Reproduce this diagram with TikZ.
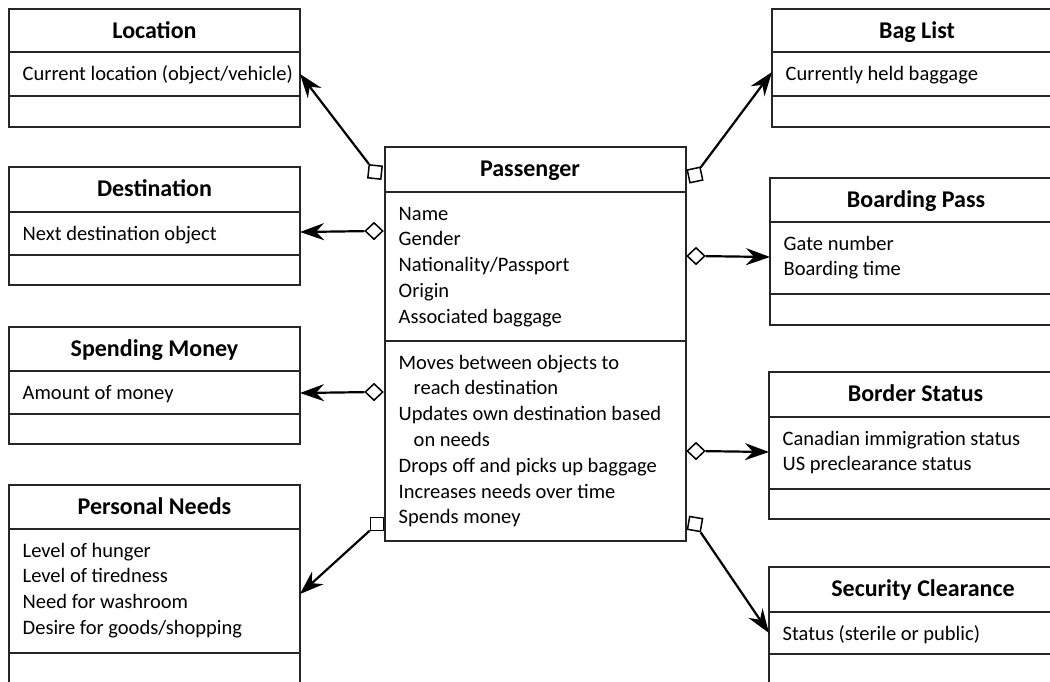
\documentclass[tikz,border=0pt]{standalone}
\usepackage{fontspec}
\setmainfont{Carlito}
\usetikzlibrary{arrows.meta,shapes.geometric}

\definecolor{boxline}{HTML}{262626}
\newcommand{\bodyfont}{\fontsize{20.5}{25.8}\selectfont}
\newcommand{\titlefont}{\fontsize{24}{28}\selectfont\bfseries}
\newcommand{\lines}[1]{\parbox[t]{330pt}{\raggedright #1}}
\newcommand{\contd}{\hspace*{15pt}}

% class box: name, left, top, right, bottom, first divider, second divider, title, attributes
\newcommand{\classbox}[9]{%
  \node[box, minimum width={(#4-#2)*1pt}, minimum height={(#5-#3)*1pt}] (#1) at (#2,#3) {};
  \draw[divider] (#2,#6) -- (#4,#6);
  \draw[divider] (#2,#7) -- (#4,#7);
  \node[title] (#1-title) at ({(#2+#4)/2},#3+29) {#8};
  \node[body] (#1-attr) at (#2+13.5,#6+28) {\lines{#9}};
}

\begin{document}
\begin{tikzpicture}[x=1pt,y=-1pt,
  box/.style={draw=boxline, line width=1.5pt, inner sep=0, outer sep=0, anchor=north west},
  divider/.style={draw=boxline, line width=2pt},
  title/.style={font=\titlefont, anchor=base, inner sep=0},
  body/.style={font=\bodyfont, anchor=base west, inner sep=0},
  link/.style={line width=2.2pt, -{Stealth[length=24pt,width=17pt,inset=8pt]}},
  agg/.style={draw, diamond, line width=1.5pt, minimum width=18pt, minimum height=17pt, inner sep=0, fill=white},
  comp/.style={draw, rectangle, line width=1.5pt, minimum size=13pt, inner sep=0, fill=white},
]
\clip (0,0) rectangle (1050,681);

% left column
\classbox{loc}{9}{9}{300}{127}{52}{96}{Location}{Current location (object/vehicle)}
\classbox{dest}{9}{167}{300}{285}{212}{255}{Destination}{Next destination object}
\classbox{money}{9}{327}{300}{444}{371}{414}{Spending Money}{Amount of money}
\classbox{needs}{9}{485}{300}{700}{529}{653}{Personal Needs}{Level of hunger\\Level of tiredness\\Need for washroom\\Desire for goods/shopping}

% central class
\node[box, minimum width=301pt, minimum height=394pt] (pass) at (385,147) {};
\draw[divider] (385,192) -- (686,192);
\draw[divider] (385,341) -- (686,341);
\node[title] (pass-title) at (530,176) {Passenger};
\node[body] (pass-attr) at (398.5,220) {\lines{Name\\Gender\\Nationality/Passport\\Origin\\Associated baggage}};
\node[body] (pass-ops) at (398.5,369) {\lines{Moves between objects to\\\contd reach destination\\Updates own destination based\\\contd on needs\\Drops off and picks up baggage\\Increases needs over time\\Spends money}};

% right column
\classbox{bags}{772}{9}{1062}{127}{52}{96}{Bag List}{Currently held baggage}
\classbox{board}{770}{178}{1062}{325}{222}{294}{Boarding Pass}{Gate number\\Boarding time}
\classbox{border}{769}{372}{1062}{519}{417}{489}{Border Status}{Canadian immigration status\\US preclearance status}
\classbox{sec}{769}{567}{1077}{700}{612}{654}{Security Clearance}{Status (sterile or public)}

% arrow targets on the class boxes
\coordinate (locIn) at (300,74);
\coordinate (destIn) at (300,232);
\coordinate (moneyIn) at (300,393);
\coordinate (needsIn) at (300,594);
\coordinate (bagsIn) at (772,72);
\coordinate (boardIn) at (770,257);
\coordinate (borderIn) at (769,452);
\coordinate (secIn) at (769,633);

% association ends beside the passenger class
\node[comp, rotate=-6] (sqLoc) at (375,172) {};
\node[agg] (dmDest) at (374,231) {};
\node[agg] (dmMoney) at (374,392) {};
\node[comp] (sqNeeds) at (377,524) {};
\node[comp, rotate=12] (sqBags) at (695,175) {};
\node[agg] (dmBoard) at (696,256) {};
\node[agg] (dmBorder) at (696,451) {};
\node[comp, rotate=-10] (sqSec) at (695,524) {};

\draw[link] (sqLoc) -- (locIn);
\draw[link] (dmDest) -- (destIn);
\draw[link] (dmMoney) -- (moneyIn);
\draw[link] (sqNeeds) -- (needsIn);
\draw[link] (sqBags) -- (bagsIn);
\draw[link] (dmBoard) -- (boardIn);
\draw[link] (dmBorder) -- (borderIn);
\draw[link] (sqSec) -- (secIn);
\end{tikzpicture}
\end{document}
